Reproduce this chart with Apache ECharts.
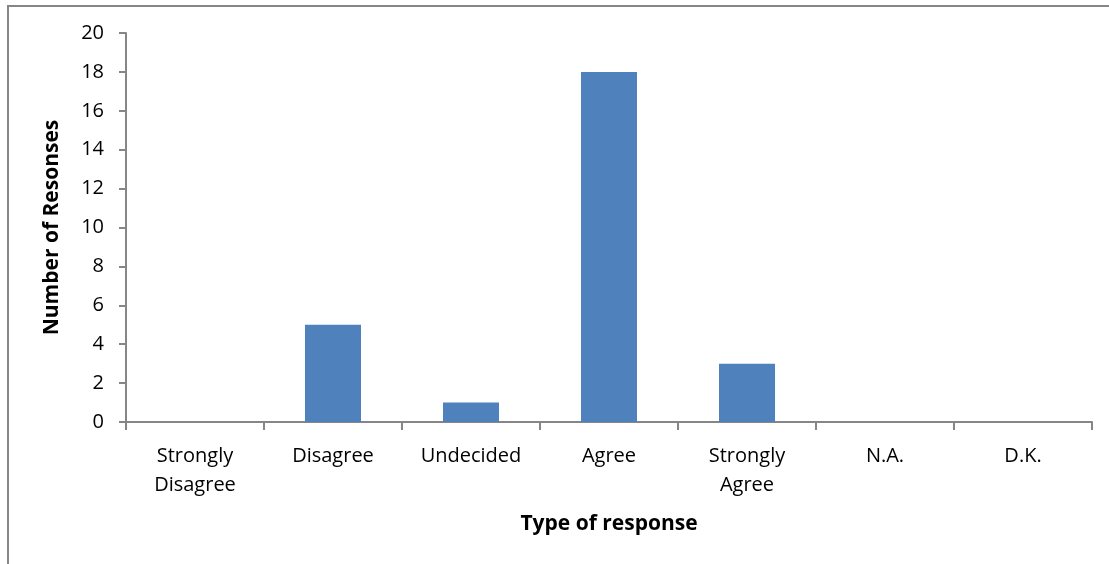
<!DOCTYPE html>
<html>
<head>
<meta charset="utf-8">
<script src="https://cdn.jsdelivr.net/npm/echarts@6/dist/echarts.min.js"></script>
<style>
  html, body { margin: 0; padding: 0; background: #ffffff; }
  #chart { width: 1109px; height: 564px; }
</style>
</head>
<body>
<div id="chart"></div>
<script>
// Survey answers per response type
const categories = ['Strongly\nDisagree', 'Disagree', 'Undecided', 'Agree', 'Strongly\nAgree', 'N.A.', 'D.K.'];
const responses = [0, 5, 1, 18, 3, 0, 0];
const yTicks = { min: 0, max: 20, interval: 2 };

const axisGrey = '#868686';
const font = '"Open Sans", Lato, "Liberation Sans", sans-serif';

const chart = echarts.init(document.getElementById('chart'), null, { renderer: 'canvas' });
chart.setOption({
  animation: false,
  backgroundColor: '#ffffff',
  graphic: [{
    type: 'rect',
    shape: { x: 8, y: 6, width: 1200, height: 700 },
    style: { fill: 'none', stroke: axisGrey, lineWidth: 2 },
    silent: true
  }],
  grid: { left: 126, right: 17, top: 33, bottom: 142, containLabel: false },
  xAxis: {
    type: 'category',
    data: categories,
    name: 'Type of response',
    nameLocation: 'middle',
    nameGap: 92,
    nameTextStyle: { fontFamily: font, fontSize: 21, fontWeight: 'bold', color: '#000' },
    axisLine: { lineStyle: { color: axisGrey, width: 2 } },
    axisTick: { show: true, alignWithLabel: false, length: 8, lineStyle: { color: axisGrey, width: 2 } },
    axisLabel: { interval: 0, margin: 20, fontFamily: font, fontSize: 20, color: '#000', lineHeight: 29 },
    splitLine: { show: false }
  },
  yAxis: {
    type: 'value',
    min: yTicks.min,
    max: yTicks.max,
    interval: yTicks.interval,
    name: 'Number of Resonses',
    nameLocation: 'middle',
    nameGap: 63,
    nameTextStyle: { fontFamily: font, fontSize: 21, fontWeight: 'bold', color: '#000' },
    axisLine: { show: true, lineStyle: { color: axisGrey, width: 2 } },
    axisTick: { show: true, length: 7, lineStyle: { color: axisGrey, width: 2 } },
    axisLabel: { margin: 22, fontFamily: font, fontSize: 20, color: '#000' },
    splitLine: { show: false }
  },
  series: [{
    type: 'bar',
    data: responses,
    barWidth: 56,
    itemStyle: { color: '#4F81BD' }
  }]
});
</script>
</body>
</html>
